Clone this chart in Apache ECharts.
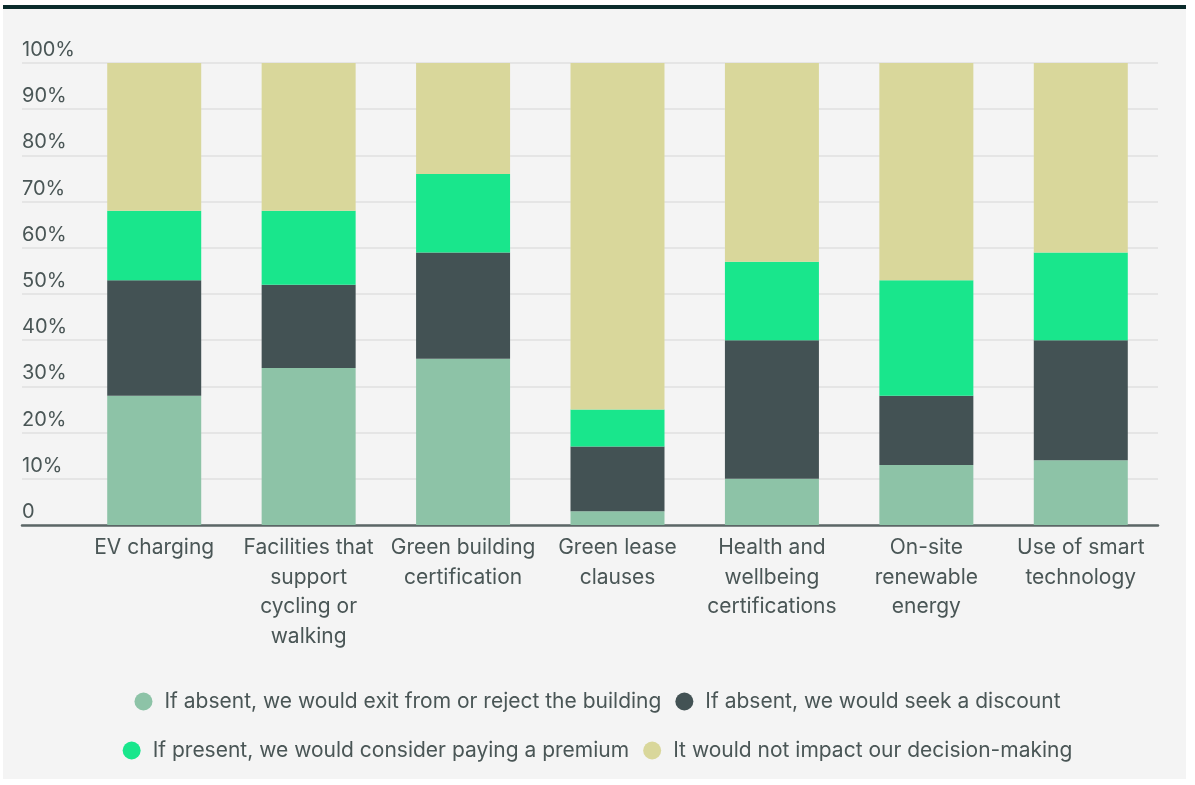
<!DOCTYPE html>
<html>
<head>
<meta charset="utf-8">
<script src="https://cdn.jsdelivr.net/npm/echarts@6/dist/echarts.min.js"></script>
<style>
  html, body { margin: 0; padding: 0; background: #ffffff; }
  #panel { position: absolute; left: 3px; top: 5px; width: 1183px; height: 774px; background: #f4f4f4; border-top: 4px solid #0a2b2b; box-sizing: border-box; }
  #chart { position: absolute; left: 0; top: 0; width: 1195px; height: 785px; }
</style>
</head>
<body>
<div id="panel"></div>
<div id="chart"></div>
<script>
const categories = [
  'EV charging',
  'Facilities that\nsupport\ncycling or\nwalking',
  'Green building\ncertification',
  'Green lease\nclauses',
  'Health and\nwellbeing\ncertifications',
  'On-site\nrenewable\nenergy',
  'Use of smart\ntechnology'
];
const seriesNames = [
  'If absent, we would exit from or reject the building',
  'If absent, we would seek a discount',
  'If present, we would consider paying a premium',
  'It would not impact our decision-making'
];
const exitReject = [28, 34, 36, 3, 10, 13, 14];
const seekDiscount = [25, 18, 23, 14, 30, 15, 26];
const payPremium = [15, 16, 17, 8, 17, 25, 19];
const noImpact = [32, 32, 24, 75, 43, 47, 41];
const yTicks = [0, 10, 20, 30, 40, 50, 60, 70, 80, 90, 100];

const colors = ['#8dc3a7', '#435254', '#19e68c', '#d9d79b'];
const textColor = '#4a5656';
const font = 'Inter';

const chart = echarts.init(document.getElementById('chart'), null, { renderer: 'canvas' });
const values = [exitReject, seekDiscount, payPremium, noImpact];

const legendText = { color: textColor, fontSize: 21, fontFamily: font, padding: [0, 0, 0, 7] };

const option = {
  backgroundColor: 'transparent',
  animation: false,
  textStyle: { fontFamily: font },
  grid: [
    { left: 22, right: 37, top: 63, bottom: 260 },
    { left: 77, right: 37, top: 63, bottom: 260 }
  ],
  xAxis: [
    { gridIndex: 0, type: 'value', min: 0, max: 1, show: true,
      axisLine: { show: true, lineStyle: { color: '#5b6666', width: 2.5 } },
      axisTick: { show: false }, axisLabel: { show: false }, splitLine: { show: false } },
    { gridIndex: 1, type: 'category', data: categories,
      axisLine: { show: false }, axisTick: { show: false },
      axisLabel: { color: textColor, fontSize: 21, lineHeight: 29.5, margin: 8, interval: 0, fontFamily: font } }
  ],
  yAxis: [
    { gridIndex: 0, type: 'value', min: yTicks[0], max: yTicks[yTicks.length - 1], interval: 10,
      axisLine: { show: false }, axisTick: { show: false },
      splitLine: { show: true, lineStyle: { color: '#e1e1e1', width: 1.5 } },
      axisLabel: { inside: true, margin: 0, align: 'left', verticalAlign: 'bottom', padding: [0, 0, 3, 0],
        color: textColor, fontSize: 20, fontFamily: font, showMaxLabel: true, showMinLabel: true,
        formatter: v => v === 0 ? '0' : v + '%' } },
    { gridIndex: 1, type: 'value', min: 0, max: 100, show: false }
  ],
  legend: [
    { data: [seriesNames[0], seriesNames[1]], top: 686, left: 'center', icon: 'circle',
      itemWidth: 18, itemHeight: 18, itemGap: 14, textStyle: legendText },
    { data: [seriesNames[2], seriesNames[3]], top: 735, left: 'center', icon: 'circle',
      itemWidth: 18, itemHeight: 18, itemGap: 14, textStyle: legendText }
  ],
  series: seriesNames.map((name, i) => ({
    name: name,
    type: 'bar',
    stack: 'total',
    xAxisIndex: 1,
    yAxisIndex: 1,
    barWidth: 94,
    itemStyle: { color: colors[i] },
    data: values[i]
  }))
};
chart.setOption(option);
</script>
</body>
</html>
